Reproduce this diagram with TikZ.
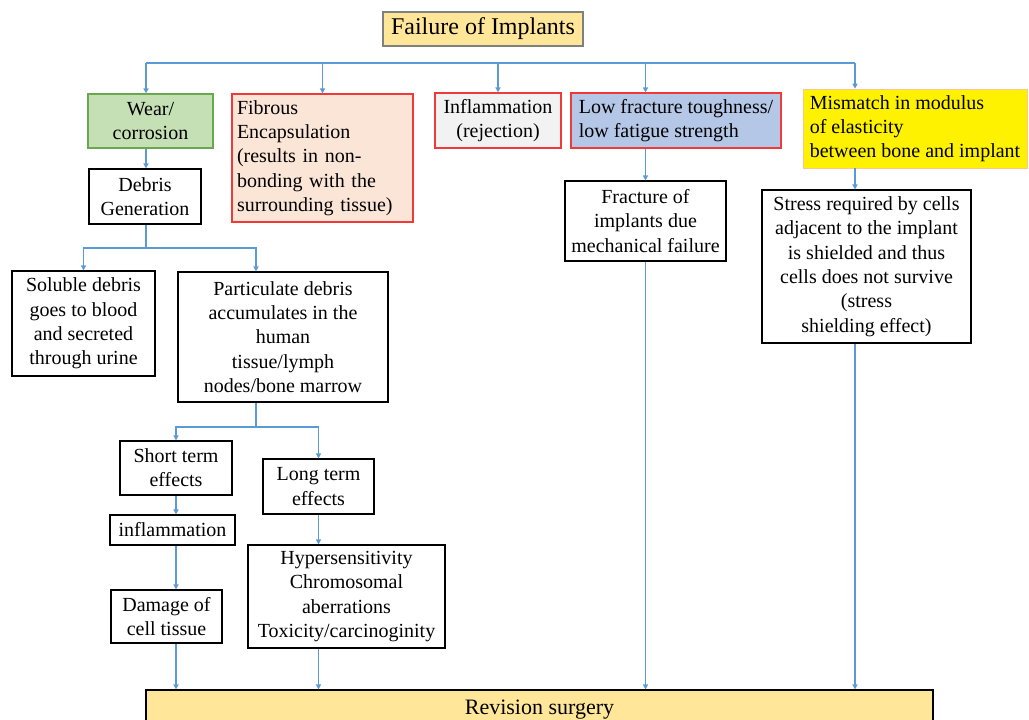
\documentclass[tikz,border=0pt]{standalone}
\usepackage{fontspec}
\setmainfont{Liberation Serif}
\newfontfamily\tnr{Liberation Serif}
\usetikzlibrary{arrows.meta}
\definecolor{gold}{HTML}{FFE699}
\definecolor{wearfill}{HTML}{C5E0B4}
\definecolor{weardraw}{HTML}{6AA84F}
\definecolor{peach}{HTML}{FBE5D6}
\definecolor{redline}{HTML}{F03A3A}
\definecolor{paleg}{HTML}{F2F2F2}
\definecolor{paleblue}{HTML}{B4C7E7}
\definecolor{lineblue}{HTML}{5B9BD5}
\tikzset{
  box/.style={draw=black, line width=1.1pt, align=center, inner sep=2pt,
    font=\tnr\fontsize{20}{24.3}\selectfont},
  arr/.style={draw=lineblue, line width=1.3pt, -{Triangle[length=5pt,width=5pt]}},
  wire/.style={draw=lineblue, line width=1.3pt},
}
\begin{document}
\begin{tikzpicture}[x=1pt,y=-1pt]
  \useasboundingbox (0,0) rectangle (1029,720);

  % title
  \node[box, draw=black!50, fill=gold, minimum width=200, minimum height=34,
        font=\tnr\fontsize{24}{28}\selectfont] (title) at (483,29) {Failure of Implants};

  % first row
  \node[box, draw=weardraw, fill=wearfill, minimum width=125, minimum height=54] (wear) at (150.5,121) {Wear/\\corrosion};
  \node[box, draw=redline, fill=peach, align=left, text width=171, inner xsep=5pt, minimum height=128] (fibrous) at (322.5,158)
    {Fibrous\\Encapsulation\\(results in non-\\bonding with the\\surrounding tissue)};
  \node[box, draw=redline, fill=paleg, minimum width=126, minimum height=55] (inflam) at (498,120.5) {Inflammation\\(rejection)};
  \node[box, draw=redline, fill=paleblue, align=left, minimum width=210, minimum height=55] (lowfrac) at (676,120.5)
    {Low fracture toughness/\\low fatigue strength};
  \node[box, draw=orange!45, line width=0.6pt, fill=yellow, align=left, minimum width=224, minimum height=79] (mismatch) at (915,128.5)
    {Mismatch in modulus\\of elasticity\\between bone and implant};

  % wear branch
  \node[box, minimum width=112, minimum height=55] (debris) at (145,196.5) {Debris\\Generation};
  \node[box, minimum width=143, minimum height=105] (soluble) at (83.5,323.5)
    {Soluble debris\\goes to blood\\and secreted\\through urine};
  \node[box, minimum width=210, minimum height=130] (partic) at (283,337)
    {Particulate debris\\accumulates in the\\human\\tissue/lymph\\nodes/bone marrow};
  \node[box, minimum width=112, minimum height=54] (short) at (176,468) {Short term\\effects};
  \node[box, minimum width=111, minimum height=55] (long) at (318.5,486.5) {Long term\\effects};
  \node[box, minimum width=125, minimum height=30] (inflshort) at (172.5,530) {inflammation};
  \node[box, minimum width=111, minimum height=53] (damage) at (166.5,616.5) {Damage of\\cell tissue};
  \node[box, minimum width=197, minimum height=103] (hyper) at (346.5,596.5)
    {Hypersensitivity\\Chromosomal\\aberrations\\Toxicity/carcinoginity};

  % mechanical branches
  \node[box, minimum width=161, minimum height=80] (fracture) at (645.5,221)
    {Fracture of\\implants due\\mechanical failure};
  \node[box, minimum width=209, minimum height=153] (stress) at (866.5,266.5)
    {Stress required by cells\\adjacent to the implant\\is shielded and thus\\cells does not survive\\(stress\\shielding effect)};

  % bottom
  \node[box, fill=gold, minimum width=787, minimum height=40,
        font=\tnr\fontsize{22}{26}\selectfont] (revision) at (539.5,710) {Revision surgery};

  % top bus
  \coordinate (busL) at (146,63);
  \coordinate (busR) at (855,63);
  \draw[wire] (busL) -- (busR);
  \draw[arr] (busL) -- (busL |- wear.north);
  \draw[arr] (fibrous.north |- busL) -- (fibrous.north);
  \draw[arr] (inflam.north |- busL) -- (inflam.north);
  \draw[arr] (fracture.north |- busL) -- (fracture.north |- lowfrac.north);
  \draw[arr] (busR) -- (busR |- mismatch.north);

  % wear -- debris -- soluble/particulate
  \draw[arr] (busL |- wear.south) -- (busL |- debris.north);
  \coordinate (split1) at (146,248);
  \coordinate (pcol) at (256,0);
  \draw[wire] (busL |- debris.south) -- (split1);
  \draw[arr] (split1) -| (soluble.north);
  \draw[arr] (split1) -| (pcol |- partic.north);

  % particulate -- short/long
  \coordinate (split2) at (256,427);
  \draw[wire] (pcol |- partic.south) -- (split2);
  \draw[arr] (split2) -| (short.north);
  \draw[arr] (split2) -| (long.north);
  \draw[arr] (short.south) -- (short.south |- inflshort.north);
  \draw[arr] (short.south |- inflshort.south) -- (short.south |- damage.north);
  \draw[arr] (long.south) -- (long.south |- hyper.north);
  \draw[arr] (short.south |- damage.south) -- (short.south |- revision.north);
  \draw[arr] (long.south |- hyper.south) -- (long.south |- revision.north);

  % mechanical -- revision
  \draw[arr] (fracture.north |- lowfrac.south) -- (fracture.north);
  \draw[arr] (busR |- mismatch.south) -- (busR |- stress.north);
  \draw[arr] (fracture.south) -- (fracture.south |- revision.north);
  \draw[arr] (busR |- stress.south) -- (busR |- revision.north);
\end{tikzpicture}
\end{document}
